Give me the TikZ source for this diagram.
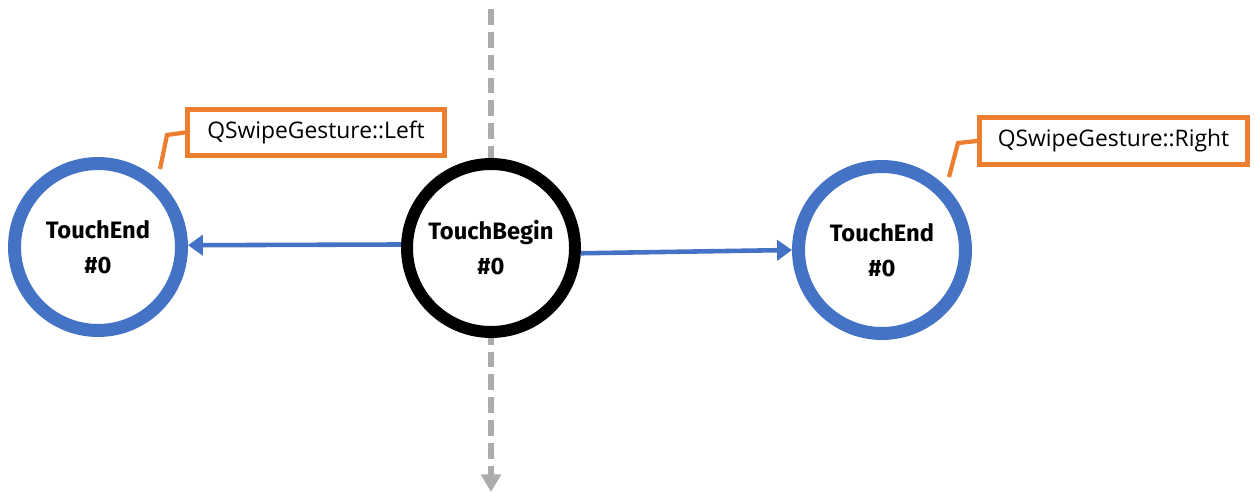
\documentclass[tikz,border=0pt]{standalone}
\usepackage{fontspec}
\setmainfont{Open Sans}
\newfontfamily\statefont{Fira Sans}
\usetikzlibrary{arrows.meta}
\definecolor{endblue}{HTML}{4472C4}
\definecolor{noteorange}{HTML}{ED7D31}
\definecolor{axisgray}{HTML}{AEABAB}
\tikzset{
  px/.style={x=0.02cm,y=-0.02cm},
  state/.style={circle,draw,fill=white,minimum size=3.34cm,inner sep=0pt,
    align=center,font=\statefont\bfseries\fontsize{13.5}{20}\selectfont},
  endstate/.style={state,draw=endblue,line width=7.4pt},
  beginstate/.style={state,draw=black,line width=6.8pt,minimum size=3.36cm},
  note/.style={draw=noteorange,line width=2.8pt,fill=white,inner sep=0pt,
    font=\fontsize{13}{15}\selectfont},
  flow/.style={draw=endblue,line width=2.6pt,
    -{Triangle[length=8.5pt,width=11.5pt]}},
  axis/.style={draw=axisgray,line width=3pt,dash pattern=on 9pt off 4pt,
    -{Triangle[length=10pt,width=11pt]}},
  callout/.style={draw=noteorange,line width=2.4pt},
}
\begin{document}
\begin{tikzpicture}[px]
  \useasboundingbox (0,0) rectangle (1255,493);

  % vertical time axis passing behind the starting state
  \coordinate (axtop) at (491,9);
  \coordinate (axbot) at (491,492);
  \draw[axis] (axtop) -- (axbot);

  % states
  \node[beginstate] (begin) at (491,248) {TouchBegin\\\#0};
  \node[endstate] (endL) at (98,247) {TouchEnd\\\#0};
  \node[endstate] (endR) at (882,250) {TouchEnd\\\#0};

  % transitions
  \draw[flow] ([yshift=2]begin.west) -- ([yshift=1]endL.east);
  \draw[flow] ([yshift=-3]begin.east) -- (endR.west);

  % gesture notes
  \node[note,minimum width=5.14cm,minimum height=0.92cm] (noteL) at (316,132.5)
    {QSwipeGesture::Left};
  \node[note,minimum width=5.36cm,minimum height=0.94cm] (noteR) at (1113.5,141)
    {QSwipeGesture::Right};

  % callout leaders
  \coordinate (lA) at (160,169);
  \coordinate (lB) at (167,135);
  \coordinate (rA) at (949,177);
  \coordinate (rB) at (958,143);
  \draw[callout] (lA) -- (lB) -- (noteL.west);
  \draw[callout] (rA) -- (rB) -- (noteR.west);
\end{tikzpicture}
\end{document}
